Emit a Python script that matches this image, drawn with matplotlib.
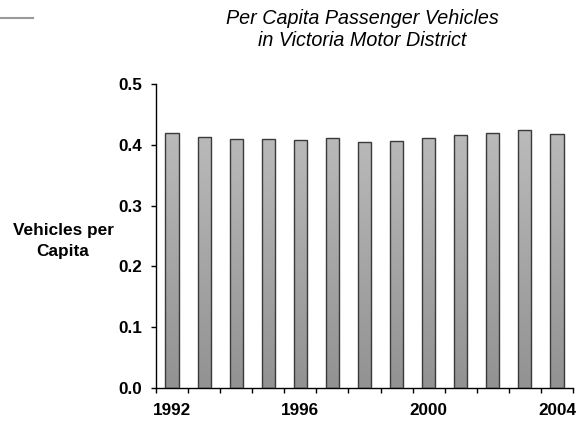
import numpy as np
import matplotlib.pyplot as plt
from matplotlib.colors import LinearSegmentedColormap
from matplotlib.lines import Line2D

plt.rcParams['font.family'] = ['Liberation Sans', 'DejaVu Sans']

# Vehiculos por habitante, 1992-2004
years = list(range(1992, 2005))
vehicles_per_capita = [0.419, 0.413, 0.409, 0.410, 0.408, 0.412, 0.404,
                       0.406, 0.411, 0.416, 0.419, 0.424, 0.418]
year_labels = ['1992', '', '', '', '1996', '', '', '', '2000', '', '', '', '2004']
y_ticks = [0.0, 0.1, 0.2, 0.3, 0.4, 0.5]

fig = plt.figure(figsize=(5.79, 4.23), dpi=100)
ax = fig.add_axes([0.2694, 0.0827, 0.7202, 0.7187])

x = np.arange(len(years))
bars = ax.bar(x, vehicles_per_capita, width=0.41, color='none',
              edgecolor='#3a3a3a', linewidth=1.0, zorder=3)

# relleno degradado: claro arriba, oscuro abajo
grad = LinearSegmentedColormap.from_list('g', ['#929292', '#c2c2c2'])
gradient = np.linspace(0, 1, 256).reshape(-1, 1)
for b in bars:
    bx, bw = b.get_x(), b.get_width()
    im = ax.imshow(gradient, cmap=grad, aspect='auto', origin='lower',
                   extent=[bx, bx + bw, 0, 0.5], zorder=2)
    im.set_clip_path(b)

ax.set_xlim(-0.5, len(years) - 0.5)
ax.set_ylim(0, 0.5)

# marcas entre categorias, etiquetas centradas
ax.set_xticks(np.arange(-0.5, len(years), 1.0))
ax.set_xticklabels([])
ax.set_xticks(x, minor=True)
ax.set_xticklabels(year_labels, minor=True, fontsize=12.3, fontweight='bold')
ax.tick_params(axis='x', which='major', direction='out', length=3.6, width=1)
ax.tick_params(axis='x', which='minor', length=0, pad=11)

ax.set_yticks(y_ticks)
ax.set_yticklabels([f'{v:.1f}' for v in y_ticks], fontsize=12.3, fontweight='bold')
ax.tick_params(axis='y', direction='out', length=3.6, width=1, pad=6.5)

for s in ['top', 'right']:
    ax.spines[s].set_visible(False)
for s in ['left', 'bottom']:
    ax.spines[s].set_linewidth(1.0)

fig.text(0.626, 0.93, 'Per Capita Passenger Vehicles\nin Victoria Motor District',
         ha='center', va='center', fontsize=14.2, style='italic', linespacing=1.22)
fig.text(0.109, 0.43, 'Vehicles per\nCapita', ha='center', va='center',
         fontsize=12.4, fontweight='bold', linespacing=1.5)

fig.add_artist(Line2D([0, 0.057], [0.957, 0.957], color='#999999', linewidth=1.5,
                      transform=fig.transFigure))

fig.savefig('out.png', dpi=100)
